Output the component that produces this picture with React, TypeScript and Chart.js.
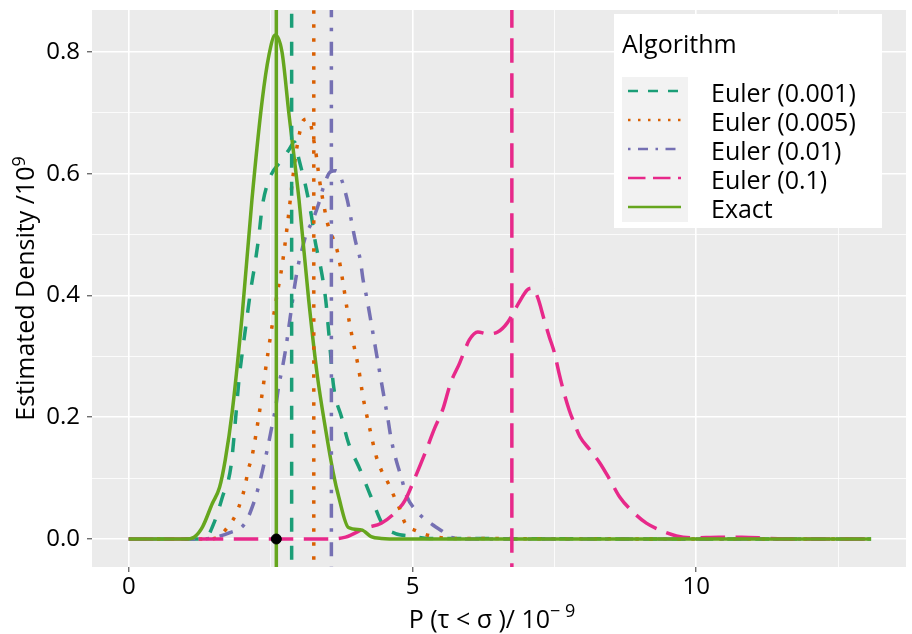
import React, { useEffect, useRef } from 'react';
import { Chart, registerables } from 'chart.js';

Chart.register(...registerables);

// ---------- data ----------
const algorithms = ['Euler (0.001)', 'Euler (0.005)', 'Euler (0.01)', 'Euler (0.1)', 'Exact'];
const seriesColors = ['#1B9E77', '#D95F02', '#7570B3', '#E7298A', '#66A61E'];

const euler001X = [0, 1.2, 1.37, 1.5, 1.65, 1.8, 1.89, 1.94, 2.0, 2.07, 2.15, 2.22, 2.29, 2.35, 2.47, 2.7, 2.82, 2.92, 3.0, 3.12, 3.22, 3.29, 3.38, 3.47, 3.52, 3.61, 3.75, 3.87, 4.08, 4.27, 4.48, 4.7, 4.95, 5.3, 13.08];
const euler001Y = [0, 0, 0.003, 0.026, 0.069, 0.119, 0.206, 0.26, 0.306, 0.355, 0.41, 0.45, 0.496, 0.545, 0.59, 0.623, 0.639, 0.652, 0.623, 0.578, 0.53, 0.486, 0.447, 0.393, 0.343, 0.25, 0.2, 0.158, 0.113, 0.069, 0.023, 0.009, 0.005, 0.001, 0];

const euler005X = [0, 1.4, 1.56, 1.75, 1.89, 1.98, 2.05, 2.1, 2.17, 2.3, 2.45, 2.61, 2.7, 2.8, 2.89, 2.96, 3.01, 3.08, 3.15, 3.2, 3.24, 3.29, 3.36, 3.45, 3.5, 3.59, 3.68, 3.77, 3.85, 3.94, 4.05, 4.13, 4.24, 4.36, 4.45, 4.57, 4.68, 4.78, 4.87, 5.08, 5.32, 5.7, 13.08];
const euler005Y = [0, 0, 0.003, 0.02, 0.041, 0.064, 0.087, 0.112, 0.135, 0.207, 0.304, 0.4, 0.448, 0.52, 0.593, 0.642, 0.667, 0.688, 0.69, 0.684, 0.664, 0.639, 0.59, 0.542, 0.519, 0.496, 0.471, 0.424, 0.376, 0.33, 0.28, 0.232, 0.184, 0.136, 0.113, 0.092, 0.069, 0.048, 0.026, 0.013, 0.005, 0.001, 0];

const euler01X = [0, 1.3, 1.47, 1.77, 2.05, 2.2, 2.29, 2.38, 2.45, 2.52, 2.59, 2.64, 2.71, 2.77, 2.82, 2.87, 2.92, 2.98, 3.06, 3.13, 3.22, 3.35, 3.43, 3.55, 3.65, 3.73, 3.85, 3.92, 3.99, 4.08, 4.13, 4.19, 4.26, 4.38, 4.5, 4.57, 4.62, 4.71, 4.8, 4.89, 5.1, 5.36, 5.57, 5.66, 6.0, 13.08];
const euler01Y = [0, 0, 0.002, 0.01, 0.026, 0.059, 0.087, 0.122, 0.151, 0.184, 0.217, 0.25, 0.283, 0.315, 0.348, 0.381, 0.414, 0.447, 0.478, 0.502, 0.519, 0.552, 0.578, 0.603, 0.605, 0.595, 0.557, 0.524, 0.491, 0.458, 0.425, 0.398, 0.361, 0.296, 0.232, 0.195, 0.166, 0.13, 0.102, 0.072, 0.043, 0.023, 0.01, 0.003, 0, 0];

const euler1X = [0, 3.5, 3.82, 4.17, 4.45, 4.69, 4.87, 5.04, 5.22, 5.39, 5.53, 5.67, 5.83, 5.92, 6.0, 6.15, 6.32, 6.5, 6.67, 6.8, 6.88, 7.02, 7.11, 7.2, 7.32, 7.41, 7.5, 7.58, 7.67, 7.76, 7.85, 7.95, 8.13, 8.3, 8.48, 8.65, 8.9, 9.12, 9.35, 9.65, 9.95, 10.4, 10.8, 11.3, 11.8, 13.08];
const euler1Y = [0, 0, 0.003, 0.018, 0.026, 0.043, 0.064, 0.1, 0.141, 0.182, 0.212, 0.256, 0.289, 0.31, 0.327, 0.34, 0.337, 0.34, 0.355, 0.376, 0.389, 0.409, 0.412, 0.398, 0.36, 0.332, 0.306, 0.273, 0.24, 0.212, 0.19, 0.168, 0.146, 0.125, 0.097, 0.069, 0.043, 0.026, 0.015, 0.005, 0.002, 0.003, 0.003, 0.001, 0, 0];

const exactX = [0, 1.0, 1.15, 1.3, 1.47, 1.6, 1.7, 1.82, 2.0, 2.17, 2.35, 2.47, 2.58, 2.7, 2.82, 3.0, 3.17, 3.32, 3.47, 3.6, 3.7, 3.87, 4.1, 4.27, 4.45, 4.8, 13.08];
const exactY = [0, 0, 0.003, 0.02, 0.058, 0.085, 0.13, 0.207, 0.37, 0.557, 0.72, 0.795, 0.828, 0.8, 0.7, 0.557, 0.393, 0.27, 0.179, 0.11, 0.069, 0.019, 0.015, 0.004, 0.001, 0, 0];

// vertical reference lines (one per algorithm) and the marked point
const meanValues = [2.87, 3.26, 3.57, 6.75, 2.6];
const pointX = [2.6];
const pointY = [0];

// axes
const xMajorTicks = [0, 5, 10];
const xMinorTicks = [2.5, 7.5, 12.5];
const yMajorTicks = [0, 0.2, 0.4, 0.6, 0.8];
const yMinorTicks = [0.1, 0.3, 0.5, 0.7];
const xTitle = 'P (τ < σ )/ 10';
const xTitleSup = '− 9';
const yTitle = 'Estimated Density /10';
const yTitleSup = '9';
const legendTitle = 'Algorithm';

// ---------- styling ----------
const FONT = '"Open Sans", "Noto Sans", sans-serif';
const U = 3.5;
const lineDashes = [[4 * U, 4 * U], [U, 3 * U], [U, 3 * U, 4 * U, 3 * U], [7 * U, 3 * U], []];
const K = 2.5;
const keyDashes = [[4 * K, 4 * K], [K, 3 * K], [K, 3 * K, 4 * K, 3 * K], [7 * K, 3 * K], []];

const seriesX = [euler001X, euler005X, euler01X, euler1X, exactX];
const seriesY = [euler001Y, euler005Y, euler01Y, euler1Y, exactY];

const isMajor = (v: number, majors: number[]) => majors.some((m) => Math.abs(m - v) < 1e-9);

const panelPlugin = {
  id: 'panelBg',
  beforeDraw(chart: any) {
    const { ctx, chartArea } = chart;
    ctx.save();
    ctx.fillStyle = '#EBEBEB';
    ctx.fillRect(chartArea.left, chartArea.top, chartArea.right - chartArea.left, chartArea.bottom - chartArea.top);
    ctx.restore();
  },
};

const annotPlugin = {
  id: 'annot',
  afterDraw(chart: any) {
    const { ctx, chartArea } = chart;
    ctx.save();
    ctx.fillStyle = '#000';
    ctx.textBaseline = 'alphabetic';
    ctx.textAlign = 'left';

    const mainFont = `25px ${FONT}`;
    const supFont = `18px ${FONT}`;

    // x title with superscript
    ctx.font = mainFont;
    const w1 = ctx.measureText(xTitle).width;
    ctx.font = supFont;
    const w2 = ctx.measureText(xTitleSup).width;
    const xStart = 492 - (w1 + w2) / 2;
    ctx.font = mainFont;
    ctx.fillText(xTitle, xStart, 628);
    ctx.font = supFont;
    ctx.fillText(xTitleSup, xStart + w1, 617);

    // y title rotated
    ctx.save();
    ctx.translate(25, (chartArea.top + chartArea.bottom) / 2);
    ctx.rotate(-Math.PI / 2);
    ctx.font = mainFont;
    const v1 = ctx.measureText(yTitle).width;
    ctx.font = supFont;
    const v2 = ctx.measureText(yTitleSup).width;
    const ys = -(v1 + v2) / 2;
    ctx.font = mainFont;
    ctx.fillText(yTitle, ys, 9);
    ctx.font = supFont;
    ctx.fillText(yTitleSup, ys + v1, 0);
    ctx.restore();

    // legend
    const bx = 614, by = 14, bw = 268, bh = 214;
    ctx.fillStyle = '#FFFFFF';
    ctx.fillRect(bx, by, bw, bh);
    ctx.fillStyle = '#000';
    ctx.font = mainFont;
    ctx.fillText(legendTitle, 622, 53);
    ctx.fillStyle = '#F2F2F2';
    ctx.fillRect(622, 77, 66, 145);
    algorithms.forEach((name, i) => {
      const ky = 91 + i * 29;
      ctx.save();
      ctx.strokeStyle = seriesColors[i];
      ctx.lineWidth = 2.5;
      ctx.setLineDash(keyDashes[i]);
      ctx.beginPath();
      ctx.moveTo(628, ky);
      ctx.lineTo(681, ky);
      ctx.stroke();
      ctx.restore();
      ctx.fillStyle = '#000';
      ctx.font = mainFont;
      ctx.fillText(name, 711, ky + 10.5);
    });
    ctx.restore();
  },
};

export default function App() {
  const canvasRef = useRef<HTMLCanvasElement | null>(null);

  useEffect(() => {
    const canvas = canvasRef.current;
    if (!canvas) return;

    const densityDatasets = algorithms.map((name, i) => ({
      type: 'line' as const,
      label: name,
      data: seriesX[i].map((x, j) => ({ x, y: seriesY[i][j] })),
      borderColor: seriesColors[i],
      borderWidth: U,
      borderDash: lineDashes[i],
      pointRadius: 0,
      fill: false,
      cubicInterpolationMode: 'monotone' as const,
      order: 10 - i,
    }));

    const vlineDatasets = algorithms.map((name, i) => ({
      type: 'line' as const,
      label: name + ' mean',
      data: [
        { x: meanValues[i], y: -1 },
        { x: meanValues[i], y: 2 },
      ],
      borderColor: seriesColors[i],
      borderWidth: U,
      borderDash: lineDashes[i],
      pointRadius: 0,
      fill: false,
      order: 5 - i,
    }));

    const pointDataset = {
      type: 'scatter' as const,
      label: 'point',
      data: pointX.map((x, j) => ({ x, y: pointY[j] })),
      backgroundColor: '#000',
      borderColor: '#000',
      pointRadius: 5,
      order: 0,
    };

    const chart = new Chart(canvas, {
      type: 'line',
      data: { datasets: [...densityDatasets, ...vlineDatasets, pointDataset] as any },
      options: {
        animation: false,
        responsive: false,
        maintainAspectRatio: false,
        devicePixelRatio: 1,
        layout: { padding: { left: 0, right: 1, top: 10, bottom: 0 } },
        plugins: { legend: { display: false }, tooltip: { enabled: false }, title: { display: false } },
        scales: {
          x: {
            type: 'linear',
            min: -0.648,
            max: 13.695,
            afterBuildTicks: (s: any) => {
              s.ticks = [...xMajorTicks, ...xMinorTicks].sort((a, b) => a - b).map((v) => ({ value: v }));
            },
            afterFit: (s: any) => {
              s.height = 67;
              s.paddingLeft = 0;
              s.paddingRight = 0;
            },
            ticks: {
              autoSkip: false,
              maxRotation: 0,
              padding: 1,
              color: '#000',
              font: { family: FONT, size: 24 },
              callback: (v: any) => (isMajor(Number(v), xMajorTicks) ? String(v) : ''),
            },
            grid: {
              color: '#FFFFFF',
              lineWidth: (c: any) => (c.tick && isMajor(c.tick.value, xMajorTicks) ? 1.6 : 0.8),
              drawTicks: true,
              tickLength: 5,
              tickWidth: 1,
              tickColor: (c: any) => (c.tick && isMajor(c.tick.value, xMajorTicks) ? '#333333' : 'rgba(0,0,0,0)'),
            },
            border: { display: false },
          },
          y: {
            type: 'linear',
            min: -0.046,
            max: 0.869,
            afterBuildTicks: (s: any) => {
              s.ticks = [...yMajorTicks, ...yMinorTicks].sort((a, b) => a - b).map((v) => ({ value: v }));
            },
            afterFit: (s: any) => {
              s.width = 92;
              s.paddingTop = 0;
              s.paddingBottom = 0;
            },
            ticks: {
              autoSkip: false,
              padding: 7,
              color: '#000',
              font: { family: FONT, size: 24 },
              callback: (v: any) => (isMajor(Number(v), yMajorTicks) ? Number(v).toFixed(1) : ''),
            },
            grid: {
              color: '#FFFFFF',
              lineWidth: (c: any) => (c.tick && isMajor(c.tick.value, yMajorTicks) ? 1.6 : 0.8),
              drawTicks: true,
              tickLength: 5,
              tickWidth: 1,
              tickColor: (c: any) => (c.tick && isMajor(c.tick.value, yMajorTicks) ? '#333333' : 'rgba(0,0,0,0)'),
            },
            border: { display: false },
          },
        },
      } as any,
      plugins: [panelPlugin, annotPlugin],
    });

    return () => {
      chart.destroy();
    };
  }, []);

  return (
    <div style={{ position: 'absolute', left: 0, top: 0, width: 912, height: 634, background: '#fff' }}>
      <canvas ref={canvasRef} width={912} height={634} style={{ width: 912, height: 634, display: 'block' }} />
    </div>
  );
}
